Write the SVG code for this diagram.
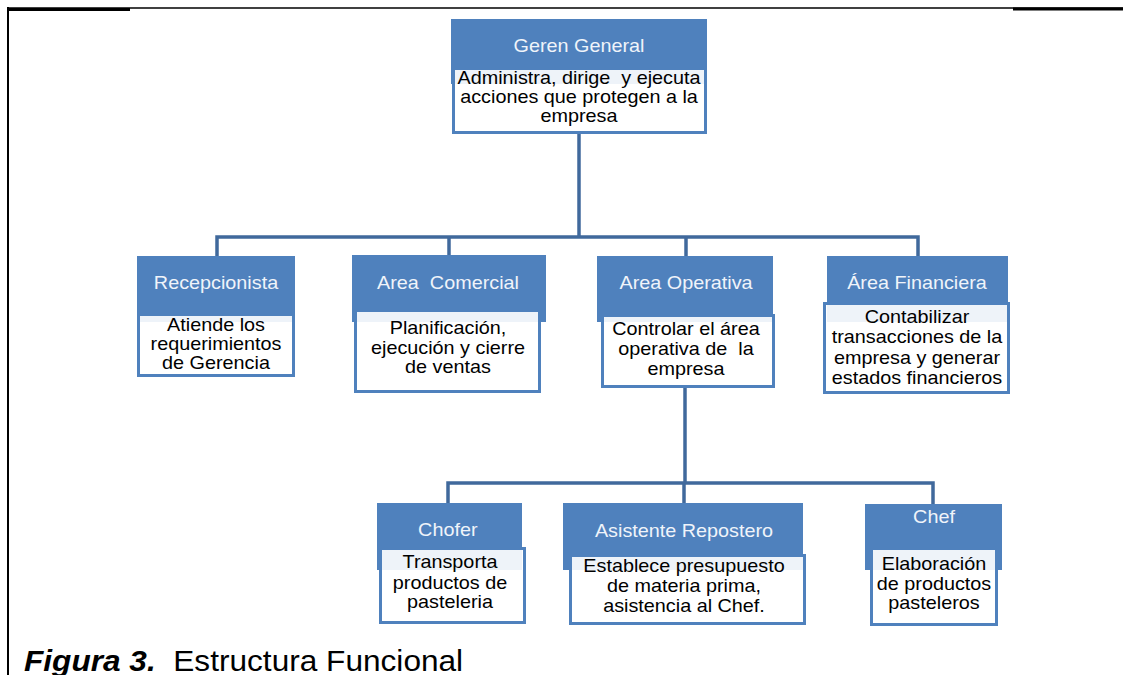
<svg xmlns="http://www.w3.org/2000/svg" width="1123" height="675" viewBox="0 0 1123 675">
  <style>
    text { white-space: pre; }
    .hdr { fill: #4F81BD; }
    .box { fill: #ffffff; fill-opacity: 0.9; stroke: #4F81BD; stroke-width: 3; }
    .ttl { font-family: "Liberation Sans", Arial, sans-serif; font-size: 18px; fill: #F0F4FA; text-anchor: middle; }
    .txt { font-family: "Liberation Sans", Arial, sans-serif; font-size: 18px; fill: #000000; text-anchor: middle; }
    .conn { fill: none; stroke: #40699C; stroke-width: 3.5; stroke-linejoin: miter; }
    .frame { stroke: #000000; fill: none; }
    .cap { font-family: "Liberation Sans", Arial, sans-serif; font-size: 29px; fill: #000000; }
  </style>

  <rect width="1123" height="675" fill="#ffffff"/>

  <!-- page frame -->
  <g id="frame">
    <line class="frame" x1="8" y1="8" x2="1123" y2="8" stroke-width="1.5"/>
    <line class="frame" x1="8" y1="9.5" x2="130" y2="9.5" stroke-width="3"/>
    <line class="frame" x1="1013" y1="9" x2="1123" y2="9" stroke-width="3"/>
    <line class="frame" x1="8" y1="7" x2="8" y2="675" stroke-width="2"/>
  </g>

  <!-- connectors -->
  <g id="connectors">
    <path class="conn" d="M579 133 V237"/>
    <path class="conn" d="M217 256 V237 H918 V256"/>
    <path class="conn" d="M449 237 V256"/>
    <path class="conn" d="M686 237 V256"/>
    <path class="conn" d="M685 387 V483"/>
    <path class="conn" d="M448 503 V483 H933 V504"/>
    <path class="conn" d="M684 483 V503"/>
  </g>

  <!-- Geren General -->
  <g id="geren-general">
    <rect class="hdr" x="451" y="19" width="256" height="65"/>
    <rect class="box" x="453.5" y="68.5" width="252" height="64"/>
    <g transform="translate(579,0) scale(1.1,1)">
      <text class="ttl" x="0" y="52.5">Geren General</text>
      <text class="txt" x="0" y="84">Administra, dirige  y ejecuta</text>
      <text class="txt" x="0" y="103">acciones que protegen a la</text>
      <text class="txt" x="0" y="122">empresa</text>
    </g>
  </g>

  <!-- Recepcionista -->
  <g id="recepcionista">
    <rect class="hdr" x="137" y="256" width="158" height="66"/>
    <rect class="box" x="138.5" y="314.5" width="155" height="61"/>
    <g transform="translate(216,0) scale(1.1,1)">
      <text class="ttl" x="0" y="289">Recepcionista</text>
      <text class="txt" x="0" y="331">Atiende los</text>
      <text class="txt" x="0" y="350">requerimientos</text>
      <text class="txt" x="0" y="369">de Gerencia</text>
    </g>
  </g>

  <!-- Area Comercial -->
  <g id="area-comercial">
    <rect class="hdr" x="352" y="255" width="194" height="67"/>
    <rect class="box" x="355.5" y="310.5" width="184" height="81"/>
    <g transform="translate(448,0) scale(1.1,1)">
      <text class="ttl" x="0" y="289">Area  Comercial</text>
      <text class="txt" x="0" y="334">Planificación,</text>
      <text class="txt" x="0" y="354">ejecución y cierre</text>
      <text class="txt" x="0" y="373">de ventas</text>
    </g>
  </g>

  <!-- Area Operativa -->
  <g id="area-operativa">
    <rect class="hdr" x="597" y="256" width="176" height="66"/>
    <rect class="box" x="602.5" y="315.5" width="171" height="71"/>
    <g transform="translate(686,0) scale(1.1,1)">
      <text class="ttl" x="0" y="289">Area Operativa</text>
      <text class="txt" x="0" y="335">Controlar el área</text>
      <text class="txt" x="0" y="355">operativa de  la</text>
      <text class="txt" x="0" y="375">empresa</text>
    </g>
  </g>

  <!-- Área Financiera -->
  <g id="area-financiera">
    <rect class="hdr" x="827" y="256" width="181" height="66"/>
    <rect class="box" x="824.5" y="303.5" width="184" height="89"/>
    <g transform="translate(917,0) scale(1.1,1)">
      <text class="ttl" x="0" y="289">Área Financiera</text>
      <text class="txt" x="0" y="323">Contabilizar</text>
      <text class="txt" x="0" y="343">transacciones de la</text>
      <text class="txt" x="0" y="364">empresa y generar</text>
      <text class="txt" x="0" y="384">estados financieros</text>
    </g>
  </g>

  <!-- Chofer -->
  <g id="chofer">
    <rect class="hdr" x="377" y="503" width="145" height="67"/>
    <rect class="box" x="380.5" y="548.5" width="144" height="74"/>
    <g transform="translate(450,0) scale(1.1,1)">
      <text class="ttl" x="-2" y="536">Chofer</text>
      <text class="txt" x="0" y="568">Transporta</text>
      <text class="txt" x="0" y="589">productos de</text>
      <text class="txt" x="0" y="608">pasteleria</text>
    </g>
  </g>

  <!-- Asistente Repostero -->
  <g id="asistente-repostero">
    <rect class="hdr" x="563" y="503" width="240" height="67"/>
    <rect class="box" x="570.5" y="555.5" width="234" height="68"/>
    <g transform="translate(684,0) scale(1.1,1)">
      <text class="ttl" x="0" y="537">Asistente Repostero</text>
      <text class="txt" x="0" y="572">Establece presupuesto</text>
      <text class="txt" x="0" y="592">de materia prima,</text>
      <text class="txt" x="0" y="612">asistencia al Chef.</text>
    </g>
  </g>

  <!-- Chef -->
  <g id="chef">
    <rect class="hdr" x="865" y="504" width="137" height="66"/>
    <rect class="box" x="871.5" y="548.5" width="125" height="76"/>
    <g transform="translate(934,0) scale(1.1,1)">
      <text class="ttl" x="0" y="523">Chef</text>
      <text class="txt" x="0" y="570">Elaboración</text>
      <text class="txt" x="0" y="590">de productos</text>
      <text class="txt" x="0" y="609">pasteleros</text>
    </g>
  </g>

  <!-- caption -->
  <g id="caption" transform="translate(24,671) scale(1.09,1)">
    <text class="cap" x="0" y="0"><tspan font-weight="bold" font-style="italic">Figura 3.</tspan>  Estructura Funcional</text>
  </g>
</svg>
